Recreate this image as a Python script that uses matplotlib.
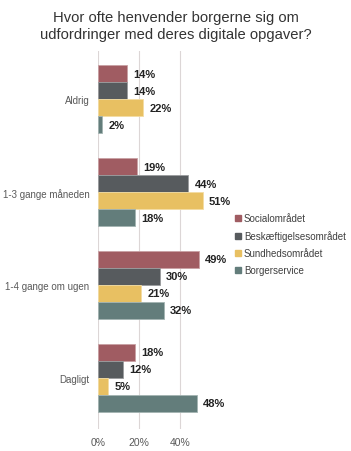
import numpy as np
import matplotlib.pyplot as plt
from matplotlib.patches import Patch

plt.rcParams['font.family'] = ['Liberation Sans', 'DejaVu Sans']

categories = ['Aldrig', '1-3 gange måneden', '1-4 gange om ugen', 'Dagligt']
series = ['Socialområdet', 'Beskæftigelsesområdet', 'Sundhedsområdet', 'Borgerservice']
values = [
    [14, 19, 49, 18],
    [14, 44, 30, 12],
    [22, 51, 21, 5],
    [2, 18, 32, 48],
]
colors = ['#a05c62', '#575b5e', '#e8c062', '#637d7b']
edges = ['#c9a0a3', '#9a9c9e', '#f3dca2', '#a3b4b2']
xticks = [0, 20, 40]

fig = plt.figure(figsize=(3.51, 4.52), dpi=100)
ax = fig.add_axes([0.279, 0.049, 0.322, 0.836])

y = np.arange(len(categories))
h = 0.183
for i, s in enumerate(series):
    pos = y + (i - 1.5) * h
    ax.barh(pos, values[i], height=h, color=colors[i], edgecolor=edges[i],
            linewidth=0.6, label=s, zorder=3)
    for p, v in zip(pos, values[i]):
        ax.text(v + 3, p, f'{v}%', va='center', ha='left', fontsize=8,
                fontweight='bold', color='#222222')

ax.set_xlim(0, 55)
ax.set_ylim(3.55, -0.52)
ax.set_yticks(y)
ax.set_yticklabels(categories, fontsize=7, color='#595959')
ax.set_xticks(xticks)
ax.set_xticklabels([f'{t}%' for t in xticks], fontsize=7.5, color='#595959')
ax.tick_params(length=0, pad=6)
ax.tick_params(axis='x', pad=6)
ax.grid(axis='x', color='#dcd6d6', linewidth=0.8, zorder=0)
for sp in ax.spines.values():
    sp.set_visible(False)

handles = [Patch(facecolor=c, edgecolor=c) for c in colors]
fig.legend(handles, series, loc='upper left', bbox_to_anchor=(0.645, 0.545),
           frameon=False, fontsize=7, labelcolor='#404040', handlelength=0.6,
           handleheight=0.6, handletextpad=0.3, labelspacing=0.72)

fig.text(0.5, 0.975, 'Hvor ofte henvender borgerne sig om\nudfordringer med deres digitale opgaver?',
         ha='center', va='top', fontsize=10.6, color='#333333', linespacing=1.2)

fig.savefig('out.png', dpi=100)
